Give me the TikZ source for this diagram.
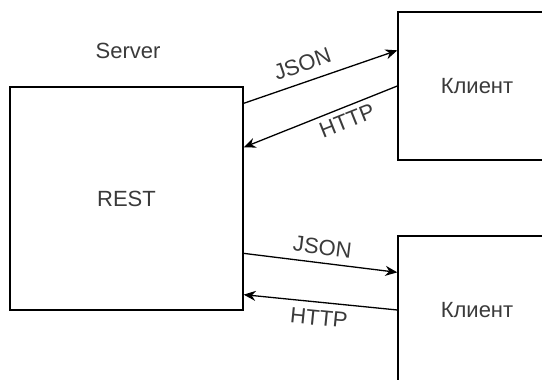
\documentclass[tikz,border=0pt]{standalone}
\usepackage{fontspec}
\setmainfont{Liberation Sans}
\usetikzlibrary{arrows.meta,calc}
\definecolor{txtgray}{HTML}{3A3A3A}
\begin{document}
\begin{tikzpicture}[x=1pt,y=-1pt,
  box/.style={draw=black, line width=1.3pt, inner sep=0pt, text=txtgray,
    font=\fontsize{22}{26}\selectfont},
  txt/.style={text=txtgray, font=\fontsize{22}{26}\selectfont, inner sep=0pt},
  lbl/.style={text=txtgray, font=\fontsize{22}{26}\selectfont, inner sep=0pt, sloped},
  arr/.style={line width=1.3pt, -{Stealth[length=12pt,width=10pt]}},
  arrback/.style={line width=1.3pt, {Stealth[length=12pt,width=10pt]}-}]
\useasboundingbox (0,0) rectangle (542,380);
\clip (0,0) rectangle (542,380);
\node[txt] (server) at (128,51) {Server};
\node[box, minimum width=233pt, minimum height=223pt] (rest) at (126.5,198.5) {REST};
\node[box, minimum width=158pt, minimum height=148pt] (c1) at (477,86) {Клиент};
\node[box, minimum width=158pt, minimum height=148pt] (c2) at (477,310) {Клиент};
\draw[arr] ([yshift=-17pt]rest.north east) -- node[lbl, above=9.5pt, pos=0.42] {JSON} ([yshift=-39pt]c1.north west);
\draw[arrback] ([yshift=-61pt]rest.north east) -- node[lbl, below=5pt, pos=0.64] {HTTP} (c1.west);
\draw[arr] ([yshift=-167pt]rest.north east) -- node[lbl, above=7.5pt, pos=0.5] {JSON} ([yshift=-37pt]c2.north west);
\draw[arrback] ([yshift=16pt]rest.south east) -- node[lbl, below=7.5pt, pos=0.5] {HTTP} (c2.west);
\end{tikzpicture}
\end{document}
